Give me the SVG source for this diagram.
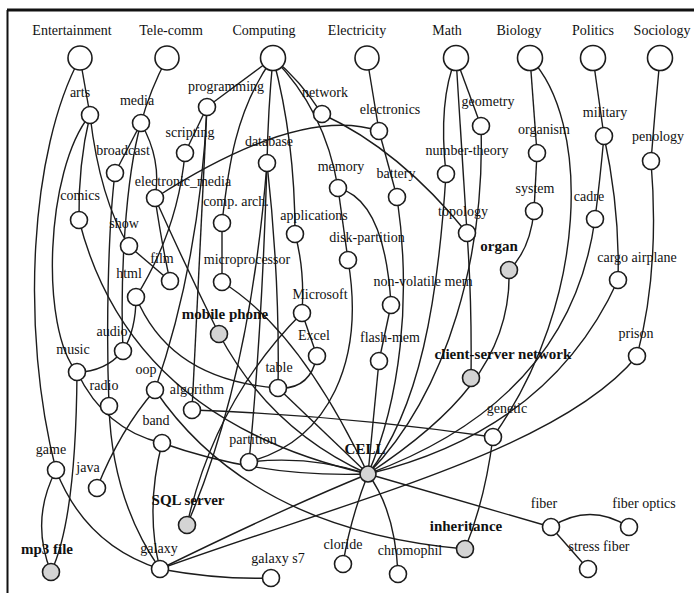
<svg xmlns="http://www.w3.org/2000/svg" width="694" height="593" viewBox="0 0 694 593">
<style>
.e{fill:none;stroke:#1c1c1c;stroke-width:1.4}
.n{fill:#fff;stroke:#1c1c1c;stroke-width:1.6}
.g{fill:#d4d4d4;stroke:#1c1c1c;stroke-width:1.6}
text{font-family:"Liberation Serif","Times New Roman",serif;font-size:14px;fill:#111;text-anchor:middle}
.b{font-weight:bold;font-size:15px}
</style>
<rect width="694" height="593" fill="#fff"/>
<line x1="7" y1="10" x2="694" y2="10" stroke="#111" stroke-width="3"/>
<line x1="7.5" y1="10" x2="7.5" y2="593" stroke="#111" stroke-width="2"/>
<g id="connectors">
<path class="e" d="M80,58 L90,115"/>
<path class="e" d="M80,58 C30,150 20,330 56,470"/>
<path class="e" d="M90,115 Q78,165 79,220"/>
<path class="e" d="M90,115 C45,170 40,330 77,372"/>
<path class="e" d="M90,115 Q100,200 129,246"/>
<path class="e" d="M167,58 Q150,90 141,123"/>
<path class="e" d="M141,123 L115,173"/>
<path class="e" d="M115,173 C108,230 106,330 109,406"/>
<path class="e" d="M141,123 Q162,160 155,198"/>
<path class="e" d="M141,123 C125,180 120,280 123,351"/>
<path class="e" d="M155,198 Q300,105 379,131"/>
<path class="e" d="M155,198 Q162,245 170,281"/>
<path class="e" d="M155,198 Q185,265 219,334"/>
<path class="e" d="M129,246 L170,281"/>
<path class="e" d="M79,220 Q130,420 368,474"/>
<path class="e" d="M185,153 Q178,230 136,297"/>
<path class="e" d="M136,297 Q136,330 123,351"/>
<path class="e" d="M136,297 Q170,380 278,388"/>
<path class="e" d="M123,351 Q105,372 77,372"/>
<path class="e" d="M77,372 Q76,520 51,572"/>
<path class="e" d="M56,470 Q30,520 51,572"/>
<path class="e" d="M56,470 Q85,545 160,569"/>
<path class="e" d="M109,406 Q112,500 160,569"/>
<path class="e" d="M155,390 Q120,430 97,488"/>
<path class="e" d="M155,390 Q250,530 465,549"/>
<path class="e" d="M77,372 Q105,430 162,443"/>
<path class="e" d="M162,443 Q260,478 368,474"/>
<path class="e" d="M162,443 Q145,510 160,569"/>
<path class="e" d="M192,410 Q340,415 493,437"/>
<path class="e" d="M273,58 L207,107"/>
<path class="e" d="M273,58 Q268,110 267,163"/>
<path class="e" d="M273,58 Q300,80 322,114"/>
<path class="e" d="M273,58 Q325,110 338,188"/>
<path class="e" d="M273,58 Q295,140 295,234"/>
<path class="e" d="M273,58 C235,110 228,170 222,223"/>
<path class="e" d="M207,107 L185,153"/>
<path class="e" d="M207,107 Q200,260 192,410"/>
<path class="e" d="M207,107 Q200,260 155,390"/>
<path class="e" d="M267,163 Q250,380 187,525"/>
<path class="e" d="M267,163 Q262,330 249,462"/>
<path class="e" d="M267,163 Q280,280 278,388"/>
<path class="e" d="M302,313 Q215,400 187,525"/>
<path class="e" d="M302,313 Q305,270 295,234"/>
<path class="e" d="M302,313 L317,356"/>
<path class="e" d="M317,356 Q310,390 278,388"/>
<path class="e" d="M278,388 L368,474"/>
<path class="e" d="M222,223 L222,282"/>
<path class="e" d="M222,282 Q300,330 368,474"/>
<path class="e" d="M219,334 Q270,430 368,474"/>
<path class="e" d="M348,260 C365,360 330,440 249,462"/>
<path class="e" d="M249,462 Q310,455 368,474"/>
<path class="e" d="M338,188 L348,260"/>
<path class="e" d="M338,188 Q385,200 391,305"/>
<path class="e" d="M391,305 L379,361"/>
<path class="e" d="M379,361 L368,474"/>
<path class="e" d="M367,58 L379,131"/>
<path class="e" d="M379,131 L397,197"/>
<path class="e" d="M397,197 C412,300 400,400 368,474"/>
<path class="e" d="M322,114 Q400,150 467,233"/>
<path class="e" d="M456,58 Q438,100 446,174"/>
<path class="e" d="M456,58 L481,126"/>
<path class="e" d="M456,58 Q462,150 467,233"/>
<path class="e" d="M446,174 C438,300 420,410 368,474"/>
<path class="e" d="M481,126 C485,250 450,390 368,474"/>
<path class="e" d="M467,233 Q472,300 471,378"/>
<path class="e" d="M530,58 L537,153"/>
<path class="e" d="M530,58 C590,120 590,300 493,437"/>
<path class="e" d="M537,153 L534,211"/>
<path class="e" d="M534,211 Q530,250 509,270"/>
<path class="e" d="M509,270 C512,360 450,420 368,474"/>
<path class="e" d="M493,437 Q485,500 465,549"/>
<path class="e" d="M593,58 L604,136"/>
<path class="e" d="M604,136 Q600,180 595,219"/>
<path class="e" d="M604,136 Q620,210 618,280"/>
<path class="e" d="M595,219 Q570,400 368,474"/>
<path class="e" d="M618,280 Q550,430 368,474"/>
<path class="e" d="M660,58 Q655,110 651,161"/>
<path class="e" d="M651,161 Q660,270 637,356"/>
<path class="e" d="M637,356 C560,450 350,500 160,569"/>
<path class="e" d="M160,569 Q280,510 368,474"/>
<path class="e" d="M160,569 Q220,580 271,578"/>
<path class="e" d="M368,474 L551,527"/>
<path class="e" d="M551,527 Q590,502 629,527"/>
<path class="e" d="M551,527 L588,569"/>
<path class="e" d="M368,474 Q350,520 343,564"/>
<path class="e" d="M368,474 Q395,510 398,574"/>
</g>
<g id="entertainment"><circle class="n" cx="80" cy="58" r="12"/><text x="72" y="35">Entertainment</text></g>
<g id="telecomm"><circle class="n" cx="167" cy="58" r="12"/><text x="171" y="35">Tele-comm</text></g>
<g id="computing"><circle class="n" cx="273" cy="58" r="12.5"/><text x="264" y="35">Computing</text></g>
<g id="electricity"><circle class="n" cx="367" cy="58" r="12"/><text x="357" y="35">Electricity</text></g>
<g id="math"><circle class="n" cx="456" cy="58" r="12.5"/><text x="447" y="35">Math</text></g>
<g id="biology"><circle class="n" cx="530" cy="58" r="12.5"/><text x="519" y="35">Biology</text></g>
<g id="politics"><circle class="n" cx="593" cy="58" r="12.5"/><text x="593" y="35">Politics</text></g>
<g id="sociology"><circle class="n" cx="660" cy="58" r="12.5"/><text x="662" y="35">Sociology</text></g>
<g id="arts"><circle class="n" cx="90" cy="115" r="8.5"/><text x="80" y="97">arts</text></g>
<g id="media"><circle class="n" cx="141" cy="123" r="8.5"/><text x="137" y="105">media</text></g>
<g id="programming"><circle class="n" cx="207" cy="107" r="8.5"/><text x="226" y="91">programming</text></g>
<g id="scripting"><circle class="n" cx="185" cy="153" r="8.5"/><text x="190" y="137">scripting</text></g>
<g id="broadcast"><circle class="n" cx="115" cy="173" r="8.5"/><text x="123" y="155">broadcast</text></g>
<g id="network"><circle class="n" cx="322" cy="114" r="8.5"/><text x="325" y="97">network</text></g>
<g id="electronics"><circle class="n" cx="379" cy="131" r="8.5"/><text x="390" y="114">electronics</text></g>
<g id="geometry"><circle class="n" cx="481" cy="126" r="8.5"/><text x="488" y="106">geometry</text></g>
<g id="military"><circle class="n" cx="604" cy="136" r="8.5"/><text x="605" y="117">military</text></g>
<g id="organism"><circle class="n" cx="537" cy="153" r="8.5"/><text x="544" y="134">organism</text></g>
<g id="penology"><circle class="n" cx="651" cy="161" r="8.5"/><text x="658" y="141">penology</text></g>
<g id="number-theory"><circle class="n" cx="446" cy="174" r="8.5"/><text x="467" y="155">number-theory</text></g>
<g id="database"><circle class="n" cx="267" cy="163" r="8.5"/><text x="269" y="146">database</text></g>
<g id="electronic_media"><circle class="n" cx="155" cy="198" r="8.5"/><text x="183" y="186">electronic_media</text></g>
<g id="memory"><circle class="n" cx="338" cy="188" r="8.5"/><text x="341" y="171">memory</text></g>
<g id="battery"><circle class="n" cx="397" cy="197" r="8.5"/><text x="396" y="178">battery</text></g>
<g id="comics"><circle class="n" cx="79" cy="220" r="8.5"/><text x="80" y="200">comics</text></g>
<g id="show"><circle class="n" cx="129" cy="246" r="8.5"/><text x="124" y="228">show</text></g>
<g id="comp-arch"><circle class="n" cx="222" cy="223" r="8.5"/><text x="236" y="206">comp. arch.</text></g>
<g id="applications"><circle class="n" cx="295" cy="234" r="8.5"/><text x="314" y="220">applications</text></g>
<g id="topology"><circle class="n" cx="467" cy="233" r="8.5"/><text x="463" y="216">topology</text></g>
<g id="system"><circle class="n" cx="534" cy="211" r="8.5"/><text x="535" y="193">system</text></g>
<g id="cadre"><circle class="n" cx="595" cy="219" r="8.5"/><text x="589" y="201">cadre</text></g>
<g id="disk-partition"><circle class="n" cx="348" cy="260" r="8.5"/><text x="367" y="242">disk-partition</text></g>
<g id="film"><circle class="n" cx="170" cy="281" r="8.5"/><text x="162" y="263">film</text></g>
<g id="microprocessor"><circle class="n" cx="222" cy="282" r="8.5"/><text x="247" y="264">microprocessor</text></g>
<g id="html"><circle class="n" cx="136" cy="297" r="8.5"/><text x="129" y="278">html</text></g>
<g id="non-volatile-mem"><circle class="n" cx="391" cy="305" r="8.5"/><text x="423" y="286">non-volatile mem</text></g>
<g id="organ"><circle class="g" cx="509" cy="270" r="8.5"/><text class="b" x="499" y="251">organ</text></g>
<g id="cargo-airplane"><circle class="n" cx="618" cy="280" r="8.5"/><text x="637" y="262">cargo airplane</text></g>
<g id="microsoft"><circle class="n" cx="302" cy="313" r="8.5"/><text x="320" y="299">Microsoft</text></g>
<g id="mobile-phone"><circle class="g" cx="219" cy="334" r="8.5"/><text class="b" x="225" y="319">mobile phone</text></g>
<g id="excel"><circle class="n" cx="317" cy="356" r="8.5"/><text x="314" y="340">Excel</text></g>
<g id="flash-mem"><circle class="n" cx="379" cy="361" r="8.5"/><text x="390" y="342">flash-mem</text></g>
<g id="audio"><circle class="n" cx="123" cy="351" r="8.5"/><text x="112" y="336">audio</text></g>
<g id="music"><circle class="n" cx="77" cy="372" r="8.5"/><text x="73" y="354">music</text></g>
<g id="client-server-network"><circle class="g" cx="471" cy="378" r="8.5"/><text class="b" x="503" y="359">client-server network</text></g>
<g id="prison"><circle class="n" cx="637" cy="356" r="8.5"/><text x="636" y="338">prison</text></g>
<g id="table"><circle class="n" cx="278" cy="388" r="8.5"/><text x="279" y="372">table</text></g>
<g id="oop"><circle class="n" cx="155" cy="390" r="8.5"/><text x="146" y="374">oop</text></g>
<g id="radio"><circle class="n" cx="109" cy="406" r="8.5"/><text x="104" y="390">radio</text></g>
<g id="algorithm"><circle class="n" cx="192" cy="410" r="8.5"/><text x="197" y="394">algorithm</text></g>
<g id="band"><circle class="n" cx="162" cy="443" r="8.5"/><text x="156" y="425">band</text></g>
<g id="genetic"><circle class="n" cx="493" cy="437" r="8.5"/><text x="507" y="413">genetic</text></g>
<g id="partition"><circle class="n" cx="249" cy="462" r="8.5"/><text x="253" y="444">partition</text></g>
<g id="cell"><circle class="g" cx="368" cy="474" r="8"/><text class="b" x="365" y="454">CELL</text></g>
<g id="game"><circle class="n" cx="56" cy="470" r="8.5"/><text x="51" y="454">game</text></g>
<g id="java"><circle class="n" cx="97" cy="488" r="8.5"/><text x="88" y="472">java</text></g>
<g id="sql-server"><circle class="g" cx="187" cy="525" r="8.5"/><text class="b" x="188" y="505">SQL server</text></g>
<g id="mp3-file"><circle class="g" cx="51" cy="572" r="8.5"/><text class="b" x="47" y="554">mp3 file</text></g>
<g id="galaxy"><circle class="n" cx="160" cy="569" r="8.5"/><text x="159" y="553">galaxy</text></g>
<g id="galaxy-s7"><circle class="n" cx="271" cy="578" r="8.5"/><text x="278" y="563">galaxy s7</text></g>
<g id="cloride"><circle class="n" cx="343" cy="564" r="8.5"/><text x="343" y="549">cloride</text></g>
<g id="chromophil"><circle class="n" cx="398" cy="574" r="8.5"/><text x="410" y="555">chromophil</text></g>
<g id="inheritance"><circle class="g" cx="465" cy="549" r="8.5"/><text class="b" x="466" y="531">inheritance</text></g>
<g id="fiber"><circle class="n" cx="551" cy="527" r="8.5"/><text x="544" y="508">fiber</text></g>
<g id="fiber-optics"><circle class="n" cx="629" cy="527" r="8.5"/><text x="644" y="508">fiber optics</text></g>
<g id="stress-fiber"><circle class="n" cx="588" cy="569" r="8.5"/><text x="599" y="551">stress fiber</text></g>
</svg>
